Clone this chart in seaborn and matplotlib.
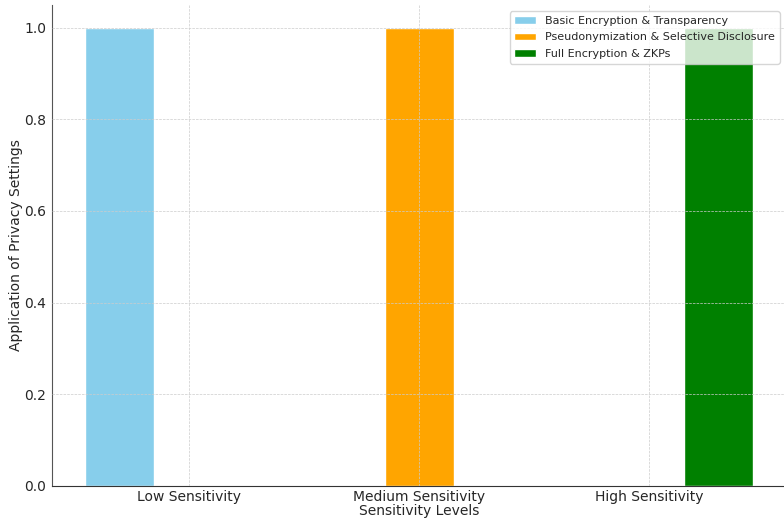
import pandas as pd
import matplotlib
matplotlib.use('Agg')
import matplotlib.pyplot as plt
import seaborn as sns

# data
levels = ['Low Sensitivity', 'Medium Sensitivity', 'High Sensitivity']
settings = ['Basic Encryption & Transparency',
            'Pseudonymization & Selective Disclosure',
            'Full Encryption & ZKPs']
basic_vals = [1, 0, 0]
pseudo_vals = [0, 1, 0]
full_vals = [0, 0, 1]
colors = ['skyblue', 'orange', 'green']

rows = []
for setting, vals in zip(settings, [basic_vals, pseudo_vals, full_vals]):
    for lvl, v in zip(levels, vals):
        rows.append({'level': lvl, 'setting': setting, 'value': v})
df = pd.DataFrame(rows)

sns.set_style('white')
plt.rcParams['font.family'] = ['DejaVu Sans']

fig = plt.figure(figsize=(7.84, 5.23), dpi=100)
ax = fig.add_axes([0.066, 0.071, 0.937, 0.92])

sns.barplot(data=df, x='level', y='value', hue='setting', hue_order=settings,
            palette=colors, width=0.9, errorbar=None, saturation=1, ax=ax)

ax.set_xlabel('Sensitivity Levels', fontsize=10, labelpad=0)
ax.set_ylabel('Application of Privacy Settings', fontsize=10, labelpad=1)
ax.tick_params(axis='both', labelsize=10, length=2, pad=2)
ax.tick_params(axis='x', pad=1)
ax.set_ylim(0, 1.05)
ax.set_xlim(-0.595, 2.595)
ax.grid(True, linestyle='--', linewidth=0.5, color='#cccccc')
ax.set_axisbelow(False)
sns.despine(ax=ax)
ax.spines['left'].set_color('#555555')
ax.spines['bottom'].set_color('#333333')

ax.legend(loc='upper right', fontsize=8, frameon=True, framealpha=0.8,
          borderaxespad=0.6, labelspacing=0.6, title=None)

fig.savefig('out.png', dpi=100)
